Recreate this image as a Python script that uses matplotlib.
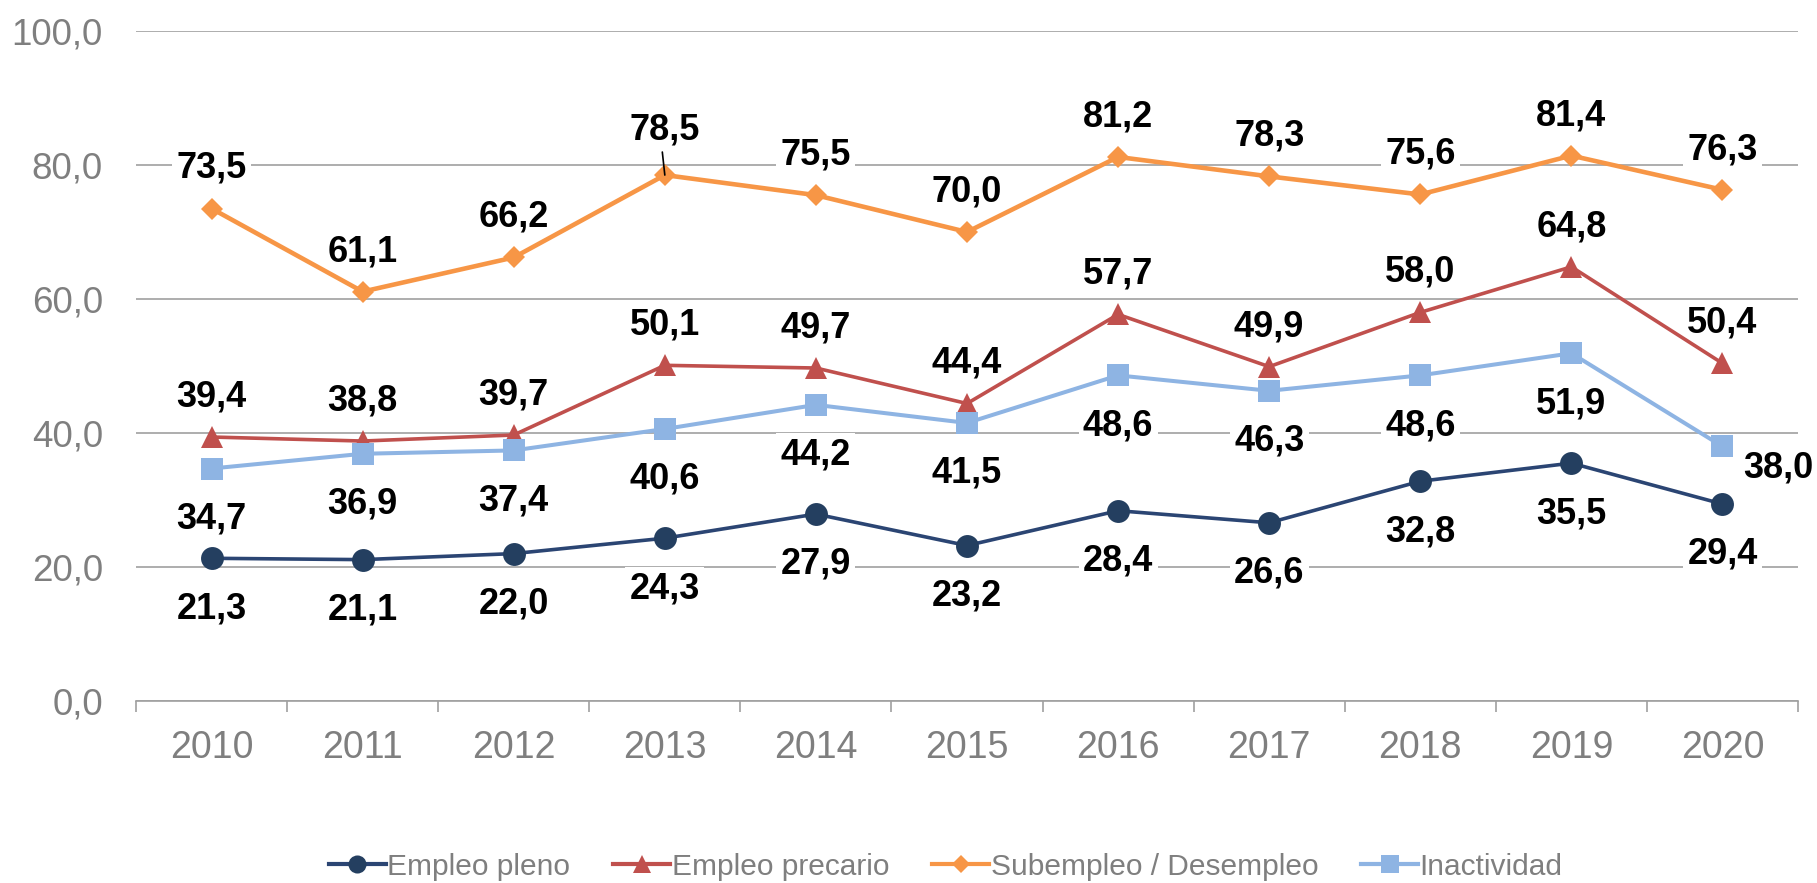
import matplotlib
matplotlib.use('Agg')
import matplotlib.pyplot as plt
from matplotlib.lines import Line2D
import numpy as np

plt.rcParams['font.family'] = ['Liberation Sans', 'DejaVu Sans']

# ---------------- data ----------------
years = ['2010', '2011', '2012', '2013', '2014', '2015', '2016', '2017', '2018', '2019', '2020']
empleo_pleno = [21.3, 21.1, 22.0, 24.3, 27.9, 23.2, 28.4, 26.6, 32.8, 35.5, 29.4]
empleo_precario = [39.4, 38.8, 39.7, 50.1, 49.7, 44.4, 57.7, 49.9, 58.0, 64.8, 50.4]
subempleo = [73.5, 61.1, 66.2, 78.5, 75.5, 70.0, 81.2, 78.3, 75.6, 81.4, 76.3]
inactividad = [34.7, 36.9, 37.4, 40.6, 44.2, 41.5, 48.6, 46.3, 48.6, 51.9, 38.0]
series_names = ['Empleo pleno', 'Empleo precario', 'Subempleo / Desempleo', 'Inactividad']
y_ticks = [0, 20, 40, 60, 80, 100]

# ---------------- styles ----------------
GRAY = '#7F7F7F'
GRID = '#A0A0A0'
styles = [
    dict(color='#2B4573', mfc='#243F60', mec='#243F60', marker='o', ms=16.5, lw=2.6),
    dict(color='#C0504D', mfc='#C0504D', mec='#C0504D', marker='^', ms=16.5, lw=2.6),
    dict(color='#F79646', mfc='#F79646', mec='#F79646', marker='D', ms=11.7, lw=3.3),
    dict(color='#8EB4E3', mfc='#8EB4E3', mec='#8EB4E3', marker='s', ms=16.5, lw=2.9),
]
# label placement: 'above' / 'below' / 'right'
placement = [
    ['below'] * 11,
    ['above'] * 11,
    ['above'] * 11,
    ['below'] * 10 + ['right'],
]

W, H = 1817, 883
fig = plt.figure(figsize=(W / 100, H / 100), dpi=100)
ax = fig.add_axes([136 / W, 1 - 701 / H, (1798 - 136) / W, (701 - 31) / H])

x = np.arange(len(years))
all_series = [empleo_pleno, empleo_precario, subempleo, inactividad]

for vals, st, name in zip(all_series, styles, series_names):
    ax.plot(x, vals, color=st['color'], lw=st['lw'], marker=st['marker'],
            ms=st['ms'], mfc=st['mfc'], mec=st['mec'], mew=0, zorder=3,
            solid_joinstyle='round', label=name)

LABEL_FS = 26
half_digit = LABEL_FS * 100 / 72 * 0.716 / 2
for si, (vals, places) in enumerate(zip(all_series, placement)):
    for i, (v, p) in enumerate(zip(vals, places)):
        txt = f"{v:.1f}".replace('.', ',')
        if p == 'above':
            dx, dy, ha = 0, 43.5 - half_digit, 'center'
        elif p == 'below':
            dx, dy, ha = 0, -47 - half_digit, 'center'
        else:
            dx, dy, ha = 21, -18 - half_digit, 'left'
        if si == 2 and i == 3:
            dy += 5
            # leader line drawn over the marker
            ax.annotate('', (x[i], v), xytext=(-2.5, 23), textcoords='offset pixels',
                        arrowprops=dict(arrowstyle='-', color='black', lw=1.2,
                                        shrinkA=0, shrinkB=0), zorder=4)
        ax.annotate(txt, (x[i], v), xytext=(dx, dy), textcoords='offset pixels',
                    ha=ha, va='baseline', fontsize=LABEL_FS, fontweight='bold',
                    color='black', zorder=2.5,
                    bbox=dict(boxstyle='square,pad=0.12', fc='white', ec='none'))

# axes
ax.set_xlim(-0.5, len(years) - 0.5)
ax.set_ylim(0, 100)
ax.set_yticks(y_ticks)
ax.set_yticklabels([f"{v:.1f}".replace('.', ',') for v in y_ticks])
ax.set_xticks(x)
ax.set_xticklabels(years)
ax.set_xticks(np.arange(-0.5, len(years), 1.0), minor=True)
ax.tick_params(axis='x', which='major', length=0, pad=21, labelsize=27, labelcolor=GRAY)
ax.tick_params(axis='x', which='minor', length=8, width=1.2, color=GRID, direction='out')
ax.tick_params(axis='y', length=0, pad=23.8, labelsize=26.5, labelcolor=GRAY)
ax.yaxis.grid(True, color=GRID, lw=1.2, zorder=0)
ax.set_axisbelow(True)
for s in ['left', 'right', 'top']:
    ax.spines[s].set_visible(False)
ax.spines['bottom'].set_color(GRID)
ax.spines['bottom'].set_linewidth(1.2)

# legend
handles = [Line2D([], [], color=st['color'], lw=3, marker=st['marker'],
                  ms=(13 if st['marker'] != 'D' else 9.5), mfc=st['mfc'], mec=st['mec'], mew=0)
           for st in styles]
fig.legend(handles, series_names, loc='center', bbox_to_anchor=(0.5205, 0.0185),
           ncol=4, frameon=False, fontsize=21.5, handlelength=1.9, handletextpad=0.05,
           columnspacing=1.45, labelcolor=GRAY)

fig.savefig('out.png', dpi=100)
